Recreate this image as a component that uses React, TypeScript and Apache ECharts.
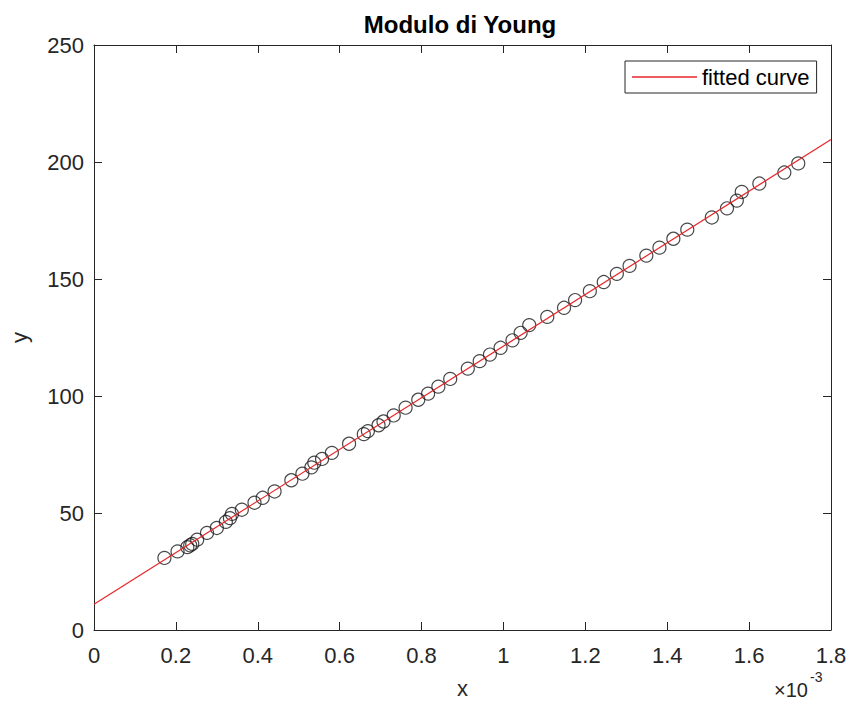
import React, { useEffect, useRef } from "react";
import * as echarts from "echarts";

// x values are shown in units of 1e-3 (axis multiplier ×10^-3)
const X_VALUES = [0.172,0.204,0.228,0.235,0.240,0.252,0.276,0.300,0.322,0.332,0.337,0.361,0.392,0.412,0.441,0.482,0.509,0.531,0.538,0.557,0.581,0.623,0.659,0.669,0.695,0.707,0.732,0.761,0.792,0.816,0.841,0.870,0.913,0.942,0.967,0.993,1.022,1.042,1.063,1.107,1.148,1.175,1.211,1.245,1.277,1.308,1.349,1.381,1.415,1.449,1.509,1.546,1.570,1.582,1.625,1.686,1.720];
const Y_VALUES = [30.8,33.6,35.4,36.2,36.8,38.6,41.5,43.6,46.2,47.8,49.6,51.4,54.4,56.5,59.2,64.0,66.8,69.5,71.5,73.1,75.7,79.6,83.7,85.0,87.5,89.1,91.7,95.0,98.4,101.0,104.0,107.3,111.7,114.9,117.7,120.6,123.8,127.0,130.3,133.8,137.7,141.0,144.8,148.7,152.2,155.6,160.0,163.4,167.2,171.1,176.3,180.2,183.5,187.2,190.8,195.5,199.4];

const FIT_X = [0, 1.8];
const FIT_Y = [11.0, 209.6];

const X_TICKS = [0, 0.2, 0.4, 0.6, 0.8, 1, 1.2, 1.4, 1.6, 1.8];
const Y_TICKS = [0, 50, 100, 150, 200, 250];

const TITLE = "Modulo di Young";
const X_NAME = "x";
const Y_NAME = "y";
const LEGEND_NAME = "fitted curve";

const AX = "#262626";
const FONT = "'Liberation Sans', Arial, sans-serif";

export default function App() {
  const ref = useRef<HTMLDivElement>(null);
  useEffect(() => {
    if (!ref.current) return;
    const chart = echarts.init(ref.current, null, { renderer: "svg" });
    const scatterData = X_VALUES.map((x, i) => [x, Y_VALUES[i]]);
    const fitData = FIT_X.map((x, i) => [x, FIT_Y[i]]);
    const xMin = X_TICKS[0];
    const xMax = X_TICKS[X_TICKS.length - 1];
    const xInt = X_TICKS[1] - X_TICKS[0];
    const yMin = Y_TICKS[0];
    const yMax = Y_TICKS[Y_TICKS.length - 1];
    const yInt = Y_TICKS[1] - Y_TICKS[0];
    const fmt = (v: number) => String(+v.toFixed(1));
    const baseX = {
      type: "value",
      min: xMin,
      max: xMax,
      interval: xInt,
      splitLine: { show: false },
      axisLine: { show: true, onZero: false, lineStyle: { color: AX, width: 1 } },
      axisTick: { show: true, inside: true, length: 8, lineStyle: { color: AX } },
    };
    const baseY = {
      type: "value",
      min: yMin,
      max: yMax,
      interval: yInt,
      splitLine: { show: false },
      axisLine: { show: true, onZero: false, lineStyle: { color: AX, width: 1 } },
      axisTick: { show: true, inside: true, length: 8, lineStyle: { color: AX } },
    };
    chart.setOption({
      animation: false,
      backgroundColor: "#ffffff",
      textStyle: { fontFamily: FONT },
      grid: { left: 88, right: 20, top: 45, bottom: 74, containLabel: false },
      xAxis: [
        {
          ...baseX,
          position: "bottom",
          name: X_NAME,
          nameLocation: "middle",
          nameGap: 47,
          nameTextStyle: { color: AX, fontSize: 22, fontFamily: FONT },
          axisLabel: { color: AX, fontSize: 22, margin: 14, fontFamily: FONT, formatter: fmt },
        },
        {
          ...baseX,
          position: "top",
          axisLabel: { show: false },
        },
      ],
      yAxis: [
        {
          ...baseY,
          position: "left",
          name: Y_NAME,
          nameLocation: "middle",
          nameGap: 64,
          nameTextStyle: { color: AX, fontSize: 22, fontFamily: FONT },
          axisLabel: { color: AX, fontSize: 22, margin: 10, fontFamily: FONT },
        },
        {
          ...baseY,
          position: "right",
          axisLabel: { show: false },
        },
      ],
      legend: {
        data: [LEGEND_NAME],
        left: 625,
        top: 61,
        orient: "vertical",
        padding: [5, 7, 5, 7],
        borderColor: AX,
        borderWidth: 1,
        backgroundColor: "#ffffff",
        itemWidth: 65,
        itemHeight: 1.5,
        icon: "rect",
        textStyle: { color: "#000000", fontSize: 22, fontFamily: FONT },
      },
      graphic: [
        {
          type: "text",
          x: 460,
          y: 24,
          style: {
            text: TITLE,
            fill: "#000000",
            font: `bold 24px ${FONT}`,
            textAlign: "center",
            textVerticalAlign: "middle",
          },
        },
        {
          type: "text",
          x: 774,
          y: 690,
          style: {
            text: "×10",
            fill: AX,
            font: `20px ${FONT}`,
            textAlign: "left",
            textVerticalAlign: "middle",
          },
        },
        {
          type: "text",
          x: 810,
          y: 677,
          style: {
            text: "-3",
            fill: AX,
            font: `14px ${FONT}`,
            textAlign: "left",
            textVerticalAlign: "middle",
          },
        },
      ],
      series: [
        {
          name: "data",
          type: "scatter",
          xAxisIndex: 0,
          yAxisIndex: 0,
          data: scatterData,
          symbol: "circle",
          symbolSize: 13,
          itemStyle: { color: "rgba(0,0,0,0)", borderColor: "#1a1a1a", borderWidth: 1.2 },
          z: 2,
        },
        {
          name: LEGEND_NAME,
          type: "line",
          xAxisIndex: 0,
          yAxisIndex: 0,
          data: fitData,
          showSymbol: false,
          symbol: "none",
          lineStyle: { color: "#e8262a", width: 1.2 },
          itemStyle: { color: "#e8262a" },
          z: 3,
        },
      ],
    });
    return () => chart.dispose();
  }, []);
  return (
    <div
      ref={ref}
      style={{ position: "fixed", left: 0, top: 0, width: 851, height: 704, background: "#fff" }}
    />
  );
}
